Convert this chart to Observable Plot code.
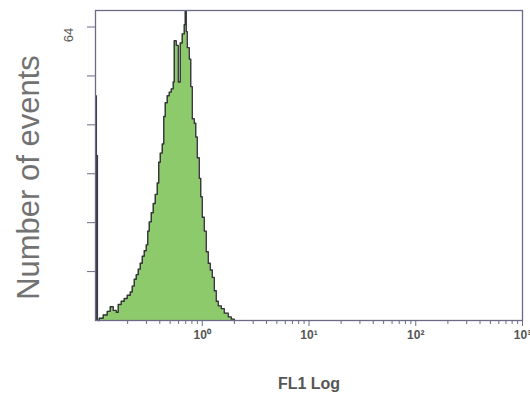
<!DOCTYPE html>
<html>
<head>
<meta charset="utf-8">
<script src="https://cdn.jsdelivr.net/npm/d3@7"></script>
<script src="https://cdn.jsdelivr.net/npm/@observablehq/plot@0.6"></script>
<style>
  html, body { margin: 0; padding: 0; background: #fff; }
  #chart svg { display: block; }
</style>
</head>
<body>
<div id="chart"></div>
<script>
// FL1 channel value (log scale) and number of events in that channel
const fl1 = [0.106, 0.1084, 0.1182, 0.1288, 0.1374, 0.1466, 0.1564, 0.1633, 0.1742, 0.1859, 0.1983,
  0.2116, 0.2209, 0.2307, 0.2408, 0.2515, 0.2626, 0.2742, 0.2862, 0.2988, 0.3086,
  0.3188, 0.3329, 0.3475, 0.3629, 0.3789, 0.3913, 0.4043, 0.4220, 0.4359, 0.4502,
  0.4700, 0.4907, 0.5124, 0.5350, 0.5467, 0.5707, 0.5959, 0.6222, 0.6496, 0.6782,
  0.6930, 0.7081, 0.7236, 0.7555, 0.7805, 0.8062, 0.8415, 0.8692, 0.8979, 0.9374,
  0.9681, 1.000, 1.044, 1.090, 1.138, 1.188, 1.241, 1.296, 1.352, 1.412,
  1.507, 1.607, 1.752, 1.869, 1.994];
const events = [0, 0.5, 1.2, 2.0, 3.0, 2.2, 1.8, 3.5, 4.2, 4.8, 5.5,
  6.2, 7.5, 9.0, 10.0, 11.2, 12.5, 14.0, 15.2, 16.5, 19.5,
  21.5, 23.5, 25.5, 27.5, 30.0, 34.5, 36.5, 38.5, 44.5, 47.5,
  49.0, 49.8, 50.5, 52, 61, 60, 52, 60.5, 62.5, 64.5,
  67.5, 63, 59.5, 57, 51, 44, 43, 40, 35.5, 31,
  27, 22.5, 19.5, 15, 12.5, 11, 9.4, 6.5, 4.2, 3.2,
  2.6, 1.6, 0.8, 0.3, 0];

// off-scale events piled in the lowest channels
const lowChannel = [0.1012, 0.1035];
const lowEvents = [49, 36];

const majorTicks = [1, 10, 100, 1000];
const majorLabels = ["10\u2070", "10\u00b9", "10\u00b2", "10\u00b3"];
const minorTicks = [0.2,0.3,0.4,0.5,0.6,0.7,0.8,0.9, 2,3,4,5,6,7,8,9, 20,30,40,50,60,70,80,90, 200,300,400,500,600,700,800,900];
const yTicks = [64/6, 128/6, 32, 256/6, 320/6, 64];
const yLabel = "Number of events";
const xLabel = "FL1 Log";

const hist = fl1.map((x, i) => ({x, y: events[i]}));
const low = lowChannel.map((x, i) => ({x, y: lowEvents[i]}));

const axisColor = "#6b6b86";

const chart = Plot.plot({
  width: 530,
  height: 395,
  marginLeft: 95,
  marginRight: 8,
  marginTop: 10,
  marginBottom: 75,
  style: {fontFamily: "Liberation Sans, Arial, sans-serif", background: "#fff"},
  x: {type: "log", domain: [0.1, 1000]},
  y: {domain: [0, 67.6]},
  marks: [
    Plot.areaY(hist, {x: "x", y: "y", curve: "step-after", fill: "#8dca6c"}),
    Plot.lineY(hist, {x: "x", y: "y", curve: "step-after", stroke: "#333338", strokeWidth: 1.4}),
    Plot.ruleX(low, {x: "x", y1: 0, y2: "y", stroke: "#3a3a48", strokeWidth: 2}),
    Plot.frame({stroke: axisColor, strokeWidth: 1.3}),
    Plot.axisX({ticks: minorTicks, tickSize: 4, text: null, stroke: axisColor, label: null}),
    Plot.axisX({ticks: majorTicks, tickSize: 6, tickPadding: 4, stroke: axisColor,
      tickFormat: (d) => majorLabels[majorTicks.indexOf(d)],
      fontSize: 12, fontWeight: "bold", fill: "#555", label: null}),
    Plot.axisY({ticks: yTicks, tickSize: 8, text: null, stroke: axisColor, label: null}),
    Plot.text(["64"], {x: 0.1, y: 64, text: (d) => d, rotate: -90, dx: -27, dy: 8,
      fontSize: 13, fill: "#555", textAnchor: "middle", lineAnchor: "middle"}),
    Plot.text([xLabel], {frameAnchor: "bottom", text: (d) => d, dy: 63, fontSize: 16,
      fontWeight: "bold", fill: "#555", lineAnchor: "middle"}),
    Plot.text([yLabel], {frameAnchor: "left", text: (d) => d, rotate: -90, dx: -66, dy: 12,
      fontSize: 31, fill: "#727272", textAnchor: "middle", lineAnchor: "middle"})
  ]
});
document.getElementById("chart").append(chart);
</script>
</body>
</html>
